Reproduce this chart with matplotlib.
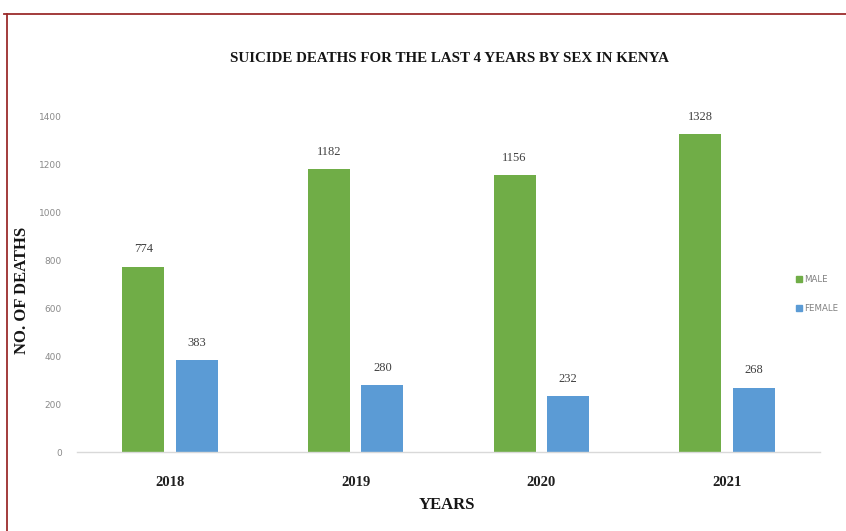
import matplotlib
matplotlib.use("Agg")
import matplotlib.pyplot as plt
import numpy as np
from matplotlib.patches import Patch
from matplotlib.lines import Line2D

years = ["2018", "2019", "2020", "2021"]
male = [774, 1182, 1156, 1328]
female = [383, 280, 232, 268]

W, H = 846, 531
fig = plt.figure(figsize=(W/100, H/100), dpi=100)
ax = fig.add_axes([77/W, 1-452/H, (820-77)/W, (452-117)/H])

x = np.arange(len(years))
bw = 0.226
off = 0.144
c_m = "#70AD47"
c_f = "#5B9BD5"
bm = ax.bar(x - off, male, bw, color=c_m, label="MALE")
bf = ax.bar(x + off, female, bw, color=c_f, label="FEMALE")

for rect, v in list(zip(bm, male)) + list(zip(bf, female)):
    ax.text(rect.get_x() + rect.get_width()/2, v + 48, str(v), ha="center", va="bottom",
            fontsize=9, color="#404040", family="Liberation Serif")

ax.set_xlim(-0.5, 3.5)
ax.set_ylim(0, 1400)
ax.set_yticks(range(0, 1401, 200))
ax.set_yticklabels([str(v) for v in range(0, 1401, 200)], fontsize=6.5, color="#8a8a8a",
                   family="DejaVu Sans")
ax.set_xticks(x)
ax.set_xticklabels(years, fontsize=10.5, fontweight="bold", family="Liberation Serif", color="#202020")
ax.tick_params(axis="both", length=0)
ax.tick_params(axis="y", pad=11)
ax.tick_params(axis="x", pad=17)
for s in ["top", "right", "left"]:
    ax.spines[s].set_visible(False)
ax.spines["bottom"].set_color("#d9d9d9")
ax.spines["bottom"].set_linewidth(1)
ax.set_facecolor("none")

fig.text(449/W, 1-58/H, "SUICIDE DEATHS FOR THE LAST 4 YEARS BY SEX IN KENYA", ha="center", va="center",
         fontsize=10.8, fontweight="bold", family="Liberation Serif", color="#151515")
fig.text(22/W, 1-290/H, "NO. OF DEATHS", ha="center", va="center", rotation=90,
         fontsize=12, fontweight="bold", family="Liberation Serif", color="#151515")
fig.text(447/W, 1-505/H, "YEARS", ha="center", va="center",
         fontsize=12, fontweight="bold", family="Liberation Serif", color="#151515")

leg = fig.legend(handles=[Patch(color=c_m, label="MALE"), Patch(color=c_f, label="FEMALE")],
                 loc="center left", bbox_to_anchor=(796/W, 1-294/H), frameon=False,
                 handlelength=0.65, handleheight=0.65, handletextpad=0.3, borderpad=0, borderaxespad=0,
                 labelspacing=2.4, prop={"family": "DejaVu Sans", "size": 6.2})
for t in leg.get_texts():
    t.set_color("#808080")

# border lines
fig.add_artist(Line2D([4/W, 1], [1-14/H, 1-14/H], color="#9b2c2c", lw=1.3, transform=fig.transFigure))
fig.add_artist(Line2D([7/W, 7/W], [0, 1-14/H], color="#9b2c2c", lw=1.3, transform=fig.transFigure))

fig.savefig("out.png", dpi=100)
